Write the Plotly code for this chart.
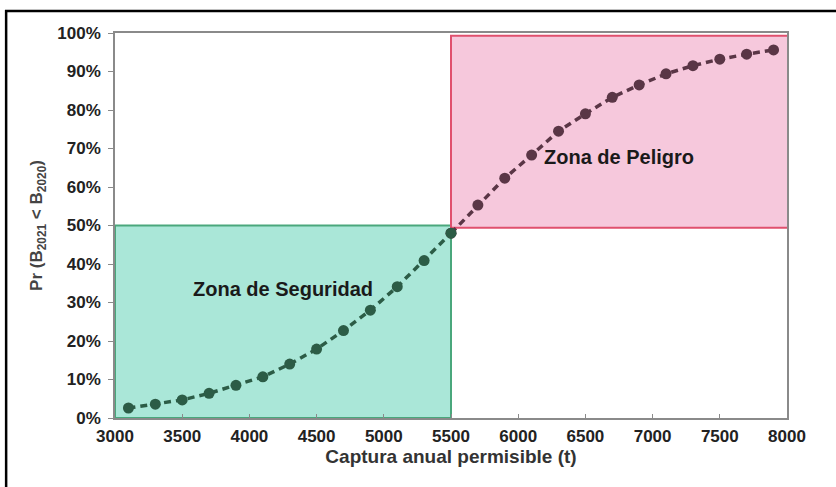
import plotly.graph_objects as go

captura = [3100, 3300, 3500, 3700, 3900, 4100, 4300, 4500, 4700, 4900, 5100, 5300, 5500,
           5700, 5900, 6100, 6300, 6500, 6700, 6900, 7100, 7300, 7500, 7700, 7900]
prob = [0.026, 0.036, 0.047, 0.064, 0.085, 0.107, 0.140, 0.179, 0.227, 0.280, 0.341, 0.409, 0.480,
        0.553, 0.623, 0.683, 0.745, 0.790, 0.833, 0.865, 0.894, 0.915, 0.932, 0.945, 0.956]
umbral = 5500
x_ticks = [3000, 3500, 4000, 4500, 5000, 5500, 6000, 6500, 7000, 7500, 8000]

safe_x = [x for x in captura if x <= umbral]
safe_y = [y for x, y in zip(captura, prob) if x <= umbral]
risk_x = [x for x in captura if x >= umbral]
risk_y = [y for x, y in zip(captura, prob) if x >= umbral]

FONT = "Liberation Sans, Arial, sans-serif"

fig = go.Figure()
fig.add_shape(type="rect", xref="x", yref="y", x0=3000, x1=5500, y0=0, y1=0.5,
              fillcolor="#aae7d8", line=dict(color="#4aa77c", width=2), layer="below")
fig.add_shape(type="rect", xref="x", yref="y", x0=5500, x1=8010, y0=0.494, y1=0.993,
              fillcolor="#f6c8dc", line=dict(color="#e0506e", width=2), layer="below")

fig.add_trace(go.Scatter(x=risk_x, y=risk_y, mode="lines+markers",
                         line=dict(color="#5a3646", width=3.5, dash="7px,5px"),
                         marker=dict(size=11, color="#5a3646"), showlegend=False))
fig.add_trace(go.Scatter(x=safe_x, y=safe_y, mode="lines+markers",
                         line=dict(color="#2c5c46", width=3.5, dash="7px,5px"),
                         marker=dict(size=11, color="#2c5c46"), showlegend=False))

fig.add_annotation(x=4250, y=0.335, xref="x", yref="y", text="Zona de Seguridad",
                   showarrow=False, font=dict(size=20, color="#1a1a1a", family=FONT, weight="bold"))
fig.add_annotation(x=6180, y=0.678, xref="x", yref="y", text="Zona de Peligro",
                   showarrow=False, xanchor="left",
                   font=dict(size=20, color="#1a1a1a", family=FONT, weight="bold"))

# outer frame
fig.add_shape(type="rect", xref="paper", yref="paper", x0=-0.162, x1=1.3, y0=-0.4, y1=1.057,
              line=dict(color="black", width=2.5), fillcolor="rgba(0,0,0,0)", layer="above")

tickfont = dict(size=17, color="#222", family=FONT, weight="bold")
fig.update_layout(
    width=836, height=487,
    margin=dict(l=115, r=49, t=33, b=69, autoexpand=False),
    paper_bgcolor="white", plot_bgcolor="white",
    font=dict(family=FONT, color="#222"),
    xaxis=dict(range=[3000, 8000], tickvals=x_ticks, showgrid=False, zeroline=False,
               showline=True, linecolor="#8a8a8a", linewidth=1.5, mirror=True,
               ticks="inside", ticklen=4, tickcolor="#8a8a8a", tickfont=tickfont,
               ticklabelstandoff=2,
               title=dict(text="Captura anual permisible (t)",
                          font=dict(size=19, color="#333", family=FONT, weight="bold"),
                          standoff=4)),
    yaxis=dict(range=[0, 1], dtick=0.1, tickformat=".0%", showgrid=False, zeroline=False,
               showline=True, linecolor="#8a8a8a", linewidth=1.5, mirror=True,
               ticks="outside", ticklen=5, tickcolor="#8a8a8a", tickfont=tickfont,
               ticklabelstandoff=4,
               title=dict(text="Pr (B<sub>2021</sub> < B<sub>2020</sub>)",
                          font=dict(size=17, color="#444", family=FONT, weight="bold"),
                          standoff=10)),
)

fig.write_html("out.html", config={"displayModeBar": False},
               post_script="document.body.style.margin='0';")
